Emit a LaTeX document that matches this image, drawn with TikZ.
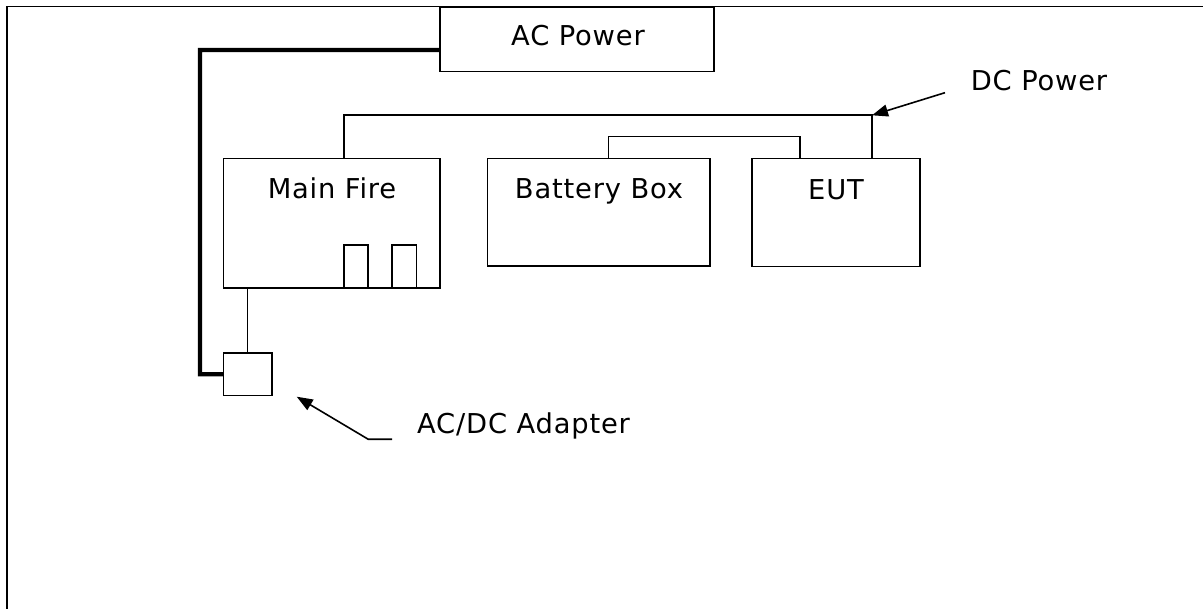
\documentclass[tikz,border=0pt]{standalone}
\usepackage{fontspec}
\setmainfont[LetterSpace=3]{DejaVu Sans}
\usetikzlibrary{arrows.meta,calc}
\begin{document}
\begin{tikzpicture}[x=0.75pt,y=-0.75pt,
  boxshape/.style={draw,line width=1.2pt,rectangle,inner sep=0pt,outer sep=0pt},
  wire/.style={line width=1.2pt},
  acwire/.style={line width=3.2pt},
  lbl/.style={anchor=base,inner sep=0pt,font=\fontsize{20.5}{24}\selectfont},
  pointer/.style={line width=1.2pt,-{Triangle[length=12pt,width=9pt]}}]
\useasboundingbox (0,0) rectangle (1203,609);
% frame
\draw[line width=1.3pt] (7,609) -- (7,6.5) -- (1203,6.5);
% boxes
\node[boxshape,minimum width=274*0.75pt,minimum height=64.4*0.75pt] (ac) at (577,39.5) {};
\node[boxshape,minimum width=216.5*0.75pt,minimum height=129.3*0.75pt] (mainfire) at (331.75,223.35) {};
\node[boxshape,minimum width=222.5*0.75pt,minimum height=107.3*0.75pt] (battery) at (598.75,212.35) {};
\node[boxshape,minimum width=168.3*0.75pt,minimum height=108*0.75pt] (eut) at (835.85,212.7) {};
\node[boxshape,minimum width=24.2*0.75pt,minimum height=43*0.75pt] (slotA) at (355.9,266.5) {};
\node[boxshape,minimum width=24.5*0.75pt,minimum height=43*0.75pt] (slotB) at (404.25,266.5) {};
\node[boxshape,minimum width=48.7*0.75pt,minimum height=42.7*0.75pt] (adapter) at (247.65,374.35) {};
% labels
\node[lbl] (tac) at (578,46) {AC Power};
\node[lbl] (tmf) at (332,199) {Main Fire};
\node[lbl] (tbb) at (599,199) {Battery Box};
\node[lbl] (teut) at (836,199.3) {EUT};
\node[lbl] (tdc) at (1039,90.7) {DC Power};
\node[lbl] (tad) at (523.6,434) {AC/DC Adapter};
% AC wiring
\coordinate (acport) at ($(ac.south west)!0.337!(ac.north west)$);
\coordinate (acbend) at (200,50);
\draw[acwire] (acport) -- (acbend) |- (adapter.west);
\draw[wire] (adapter.north) -- (adapter.north |- mainfire.south);
% DC wiring
\coordinate (dcleft) at (343.8,115.3);
\coordinate (dcjoin) at (872,115.3);
\draw[wire] (dcleft |- mainfire.north) -- (dcleft) -- (dcjoin) -- (dcjoin |- eut.north);
\coordinate (bleft) at (608.3,136.7);
\coordinate (bright) at (800,136.7);
\draw[wire] (bleft |- battery.north) -- (bleft) -- (bright) -- (bright |- eut.north);
% pointers
\coordinate (dctail) at (945,92.7);
\draw[pointer] (dctail) -- (dcjoin);
\coordinate (adtail) at (392,439.3);
\coordinate (adknee) at (368.3,439.3);
\coordinate (adtip) at (296.7,396.7);
\draw[pointer] (adtail) -- (adknee) -- (adtip);
\end{tikzpicture}
\end{document}
